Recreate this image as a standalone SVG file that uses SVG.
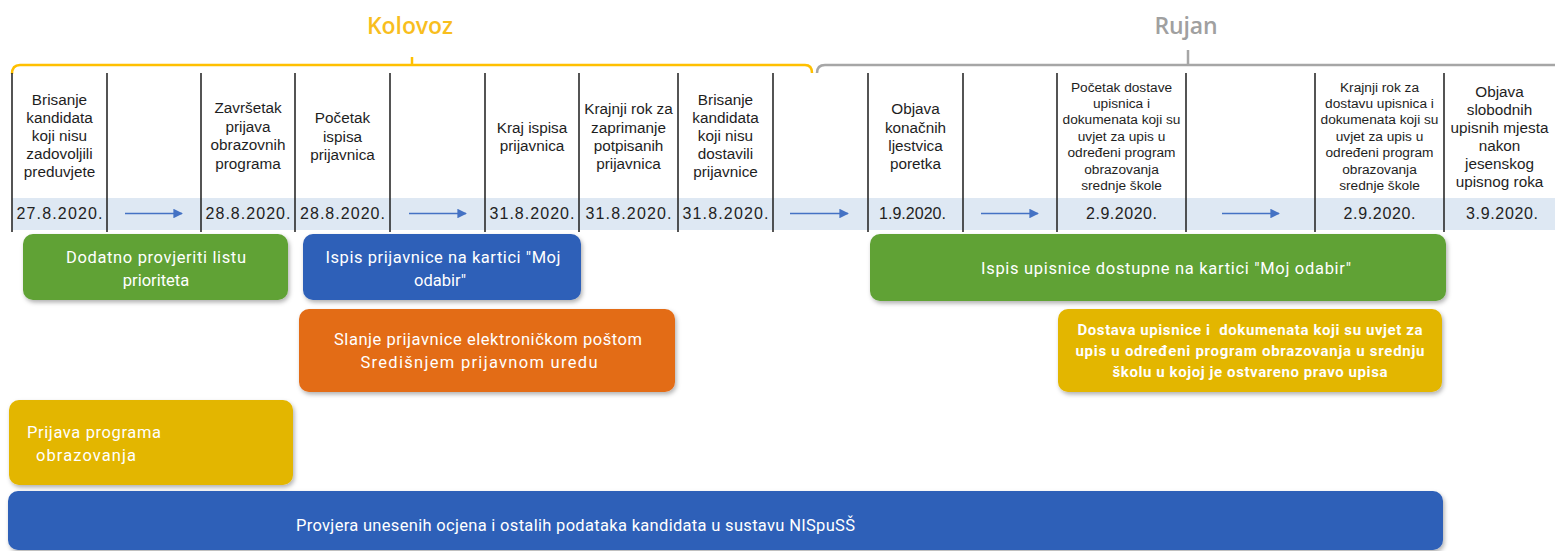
<svg xmlns="http://www.w3.org/2000/svg" width="1555" height="551" viewBox="0 0 1555 551">
<style>
.hd{font-family:"Liberation Sans",Arial,sans-serif;font-size:15.3px;fill:#1e1e1e;text-anchor:middle}
.hs{font-size:13.7px}
.dt{font-family:"Liberation Sans",Arial,sans-serif;font-size:16px;fill:#222;text-anchor:middle}
.sep{stroke:#2a2a2a;stroke-width:1.6}
.bx{font-family:Roboto,"Open Sans",sans-serif;font-size:16.5px;fill:#fff;text-anchor:middle}
.bl{text-anchor:start}
.bb{font-weight:bold;font-size:15px;white-space:pre}
.arr{stroke:#4472C4;stroke-width:1.6;fill:none}
.mon{font-family:"Open Sans",sans-serif;font-weight:600;font-size:23px;text-anchor:middle}
</style>
<defs>
<marker id="ah" viewBox="0 0 10 10" refX="9" refY="5" markerWidth="6" markerHeight="6" markerUnits="strokeWidth" orient="auto">
<path d="M0,0 L10,5 L0,10 z" fill="#4472C4"/>
</marker>
<filter id="sh" x="-5%" y="-10%" width="110%" height="130%">
<feDropShadow dx="1.5" dy="2.5" stdDeviation="2" flood-color="#000" flood-opacity="0.3"/>
</filter>
</defs>
<rect width="1555" height="551" fill="#fff"/>

<g id="months">
<path d="M12,74 Q12,65 20,65 H805 Q812,65 812,73" fill="none" stroke="#FFC000" stroke-width="2.5"/>
<path d="M412,65 V57" stroke="#FFC000" stroke-width="2.5"/>
<path d="M817,73 Q817,65 825,65 H1555" fill="none" stroke="#A6A6A6" stroke-width="2.5"/>
<path d="M1188,65 V50" stroke="#A6A6A6" stroke-width="2.5"/>
<text class="mon" x="410" y="34" fill="#F8BE1E" textLength="86">Kolovoz</text>
<text class="mon" x="1186" y="34" fill="#A0A0A0" textLength="63">Rujan</text>
</g>

<g id="table">
<rect x="12" y="198" width="1543" height="32" fill="#DEE8F3"/>
<g class="sep">
<line x1="12" y1="73" x2="12" y2="232"/>
<line x1="107" y1="73" x2="107" y2="232"/>
<line x1="201" y1="73" x2="201" y2="232"/>
<line x1="295" y1="73" x2="295" y2="232"/>
<line x1="390" y1="73" x2="390" y2="232"/>
<line x1="485" y1="73" x2="485" y2="232"/>
<line x1="579" y1="73" x2="579" y2="232"/>
<line x1="678" y1="73" x2="678" y2="232"/>
<line x1="773" y1="73" x2="773" y2="232"/>
<line x1="868" y1="73" x2="868" y2="232"/>
<line x1="963" y1="73" x2="963" y2="232"/>
<line x1="1057" y1="73" x2="1057" y2="232"/>
<line x1="1186" y1="73" x2="1186" y2="232"/>
<line x1="1315" y1="73" x2="1315" y2="232"/>
<line x1="1444" y1="73" x2="1444" y2="232"/>
</g>
</g>

<g id="col1">
<text class="hd" x="59.5" y="105">Brisanje</text>
<text class="hd" x="59.5" y="123">kandidata</text>
<text class="hd" x="59.5" y="141">koji nisu</text>
<text class="hd" x="59.5" y="159">zadovoljili</text>
<text class="hd" x="59.5" y="177">preduvjete</text>
<text class="dt" x="59.5" y="219" textLength="86">27.8.2020.</text>
</g>
<g id="col3">
<text class="hd" x="248" y="113">Završetak</text>
<text class="hd" x="248" y="131.5">prijava</text>
<text class="hd" x="248" y="150">obrazovnih</text>
<text class="hd" x="248" y="168.5">programa</text>
<text class="dt" x="248" y="219" textLength="85">28.8.2020.</text>
</g>
<g id="col4">
<text class="hd" x="342.5" y="123">Početak</text>
<text class="hd" x="342.5" y="141.5">ispisa</text>
<text class="hd" x="342.5" y="160">prijavnica</text>
<text class="dt" x="342.5" y="219" textLength="85">28.8.2020.</text>
</g>
<g id="col6">
<text class="hd" x="532" y="132.5">Kraj ispisa</text>
<text class="hd" x="532" y="150.5">prijavnica</text>
<text class="dt" x="532" y="219" textLength="85">31.8.2020.</text>
</g>
<g id="col7">
<text class="hd" x="628.5" y="114">Krajnji rok za</text>
<text class="hd" x="628.5" y="132.5">zaprimanje</text>
<text class="hd" x="628.5" y="150.5">potpisanih</text>
<text class="hd" x="628.5" y="169">prijavnica</text>
<text class="dt" x="628.5" y="219" textLength="86">31.8.2020.</text>
</g>
<g id="col8">
<text class="hd" x="725.5" y="105">Brisanje</text>
<text class="hd" x="725.5" y="123">kandidata</text>
<text class="hd" x="725.5" y="141">koji nisu</text>
<text class="hd" x="725.5" y="159">dostavili</text>
<text class="hd" x="725.5" y="177">prijavnice</text>
<text class="dt" x="725.5" y="219" textLength="86">31.8.2020.</text>
</g>
<g id="col10">
<text class="hd" x="915.5" y="114">Objava</text>
<text class="hd" x="915.5" y="132.5">konačnih</text>
<text class="hd" x="915.5" y="150.5">ljestvica</text>
<text class="hd" x="915.5" y="169">poretka</text>
<text class="dt" x="912.5" y="219" textLength="67">1.9.2020.</text>
</g>
<g id="col12">
<text class="hd hs" x="1121.5" y="91.5">Početak dostave</text>
<text class="hd hs" x="1121.5" y="108">upisnica i</text>
<text class="hd hs" x="1121.5" y="124">dokumenata koji su</text>
<text class="hd hs" x="1121.5" y="140.5">uvjet za upis u</text>
<text class="hd hs" x="1121.5" y="157">određeni program</text>
<text class="hd hs" x="1121.5" y="173.5">obrazovanja</text>
<text class="hd hs" x="1121.5" y="190">srednje škole</text>
<text class="dt" x="1121.5" y="219" textLength="71">2.9.2020.</text>
</g>
<g id="col14">
<text class="hd hs" x="1379.5" y="91.5">Krajnji rok za</text>
<text class="hd hs" x="1379.5" y="108">dostavu upisnica i</text>
<text class="hd hs" x="1379.5" y="124">dokumenata koji su</text>
<text class="hd hs" x="1379.5" y="140.5">uvjet za upis u</text>
<text class="hd hs" x="1379.5" y="157">određeni program</text>
<text class="hd hs" x="1379.5" y="173.5">obrazovanja</text>
<text class="hd hs" x="1379.5" y="190">srednje škole</text>
<text class="dt" x="1379.5" y="219" textLength="72">2.9.2020.</text>
</g>
<g id="col15">
<text class="hd" x="1499.5" y="96.5">Objava</text>
<text class="hd" x="1499.5" y="115">slobodnih</text>
<text class="hd" x="1499.5" y="133">upisnih mjesta</text>
<text class="hd" x="1499.5" y="151">nakon</text>
<text class="hd" x="1499.5" y="169">jesenskog</text>
<text class="hd" x="1499.5" y="187">upisnog roka</text>
<text class="dt" x="1502" y="219" textLength="72">3.9.2020.</text>
</g>

<g id="connectors">
<line class="arr" x1="125" y1="213.5" x2="182" y2="213.5" marker-end="url(#ah)"/>
<line class="arr" x1="409" y1="213.5" x2="466" y2="213.5" marker-end="url(#ah)"/>
<line class="arr" x1="790" y1="213.5" x2="848" y2="213.5" marker-end="url(#ah)"/>
<line class="arr" x1="981" y1="213.5" x2="1038" y2="213.5" marker-end="url(#ah)"/>
<line class="arr" x1="1222" y1="213.5" x2="1279" y2="213.5" marker-end="url(#ah)"/>
</g>

<g id="box-dodatno">
<rect x="23" y="234" width="265" height="66" rx="10" fill="#60A235" filter="url(#sh)"/>
<text class="bx" x="156" y="263" textLength="180">Dodatno provjeriti listu</text>
<text class="bx" x="156" y="286">prioriteta</text>
</g>
<g id="box-ispis-prijavnice">
<rect x="303" y="234" width="278" height="66" rx="10" fill="#2E60B8" filter="url(#sh)"/>
<text class="bx" x="443" y="263" textLength="235">Ispis prijavnice na kartici "Moj</text>
<text class="bx" x="440" y="286">odabir"</text>
</g>
<g id="box-ispis-upisnice">
<rect x="870" y="234" width="576" height="67" rx="10" fill="#60A235" filter="url(#sh)"/>
<text class="bx" x="1166" y="274" textLength="370">Ispis upisnice dostupne na kartici "Moj odabir"</text>
</g>
<g id="box-slanje">
<rect x="299" y="309" width="376" height="83" rx="10" fill="#E36C19" filter="url(#sh)"/>
<text class="bx" x="488" y="345" textLength="308">Slanje prijavnice elektroničkom poštom</text>
<text class="bx" x="479" y="368" textLength="237">Središnjem prijavnom uredu</text>
</g>
<g id="box-dostava">
<rect x="1058" y="309" width="384" height="83" rx="10" fill="#E3B604" filter="url(#sh)"/>
<text class="bx bb" x="1250" y="335" textLength="345" xml:space="preserve">Dostava upisnice i  dokumenata koji su uvjet za</text>
<text class="bx bb" x="1250" y="356" textLength="349">upis u određeni program obrazovanja u srednju</text>
<text class="bx bb" x="1250" y="377" textLength="275">školu u kojoj je ostvareno pravo upisa</text>
</g>
<g id="box-prijava">
<rect x="9" y="400" width="284" height="85" rx="10" fill="#E3B604" filter="url(#sh)"/>
<text class="bx bl" x="27" y="438" textLength="134">Prijava programa</text>
<text class="bx bl" x="36" y="461" textLength="100">obrazovanja</text>
</g>
<g id="box-provjera">
<rect x="8" y="491" width="1435" height="59" rx="10" fill="#2E60B8" filter="url(#sh)"/>
<text class="bx" x="575.5" y="531" textLength="559">Provjera unesenih ocjena i ostalih podataka kandidata u sustavu NISpuSŠ</text>
</g>
</svg>
